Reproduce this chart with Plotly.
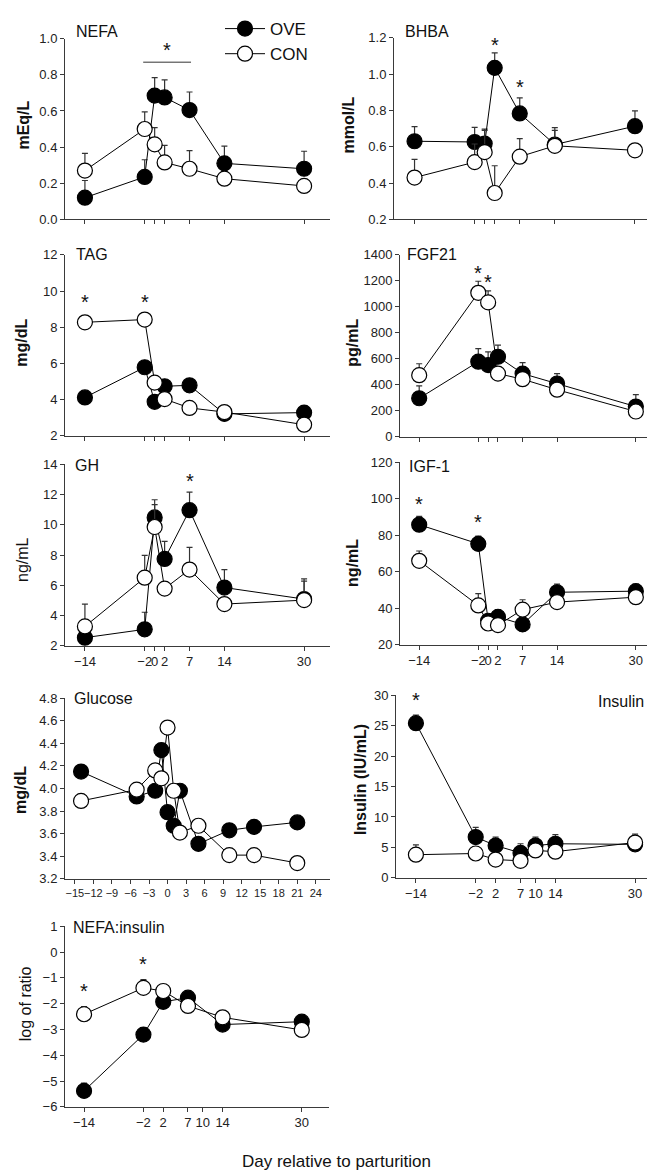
import plotly.graph_objects as go

W, H = 655, 1175
FONT = "Liberation Sans, Arial, sans-serif"

# ---------------- data ----------------
days = [-14, -2, 0, 2, 7, 14, 30]
tick_days = [-14, -2, 0, 2, 7, 14, 30]
tick_days_txt = ["\u221214", "\u22122", "0", "2", "7", "14", "30"]

nefa_ove = [0.12, 0.235, 0.685, 0.675, 0.605, 0.31, 0.28]
nefa_ove_se = [0.095, 0.095, 0.10, 0.097, 0.10, 0.095, 0.097]
nefa_con = [0.27, 0.50, 0.415, 0.315, 0.28, 0.225, 0.185]
nefa_con_se = [0.095, 0.095, 0.093, 0.095, 0.10, 0.03, 0.03]

bhba_ove = [0.63, 0.626, 0.617, 1.034, 0.783, 0.612, 0.713]
bhba_ove_se = [0.08, 0.08, 0.08, 0.083, 0.086, 0.093, 0.084]
bhba_con = [0.43, 0.515, 0.57, 0.345, 0.545, 0.605, 0.58]
bhba_con_se = [0.10, 0.10, 0.12, 0.15, 0.10, 0.085, 0.03]

tag_ove = [4.11, 5.78, 3.87, 4.73, 4.78, 3.2, 3.27]
tag_con = [8.27, 8.42, 4.93, 4.02, 3.53, 3.3, 2.6]

fgf_ove = [295, 577, 551, 615, 485, 409, 231]
fgf_ove_se = [96, 101, 102, 89, 84, 76, 92]
fgf_con = [473, 1108, 1034, 485, 442, 361, 193]
fgf_con_se = [88, 89, 89, 20, 20, 20, 20]

gh_ove = [2.54, 3.09, 10.48, 7.74, 10.96, 5.85, 5.09]
gh_ove_se = [0.3, 1.13, 1.17, 1.16, 1.19, 1.19, 1.34]
gh_con = [3.28, 6.5, 9.85, 5.78, 7.04, 4.76, 5.02]
gh_con_se = [1.48, 1.48, 1.48, 0.3, 1.46, 0.3, 1.26]

igf_ove = [85.8, 75.3, 33.2, 35.3, 31.2, 48.8, 49.4]
igf_ove_se = [4.5, 4.2, 2, 4, 2, 4.5, 3.9]
igf_con = [66, 41.6, 31.7, 30.8, 39.3, 43.4, 46.1]
igf_con_se = [5.4, 6.4, 2, 2, 5.4, 2, 2]

glu_days = [-14, -5, -2, -1, 0, 1, 2, 5, 10, 14, 21]
glu_ove = [4.15, 3.93, 3.98, 4.34, 3.79, 3.67, 3.98, 3.51, 3.63, 3.66, 3.70]
glu_con = [3.89, 3.99, 4.16, 4.09, 4.54, 3.98, 3.61, 3.67, 3.41, 3.41, 3.34]
glu_ticks = [-15, -12, -9, -6, -3, 0, 3, 6, 9, 12, 15, 18, 21, 24]

ins_days = [-14, -2, 2, 7, 10, 14, 30]
ins_ticks_txt = ["\u221214", "\u22122", "2", "7", "10", "14", "30"]
ins_ove = [25.4, 6.7, 5.3, 4.1, 5.3, 5.6, 5.5]
ins_ove_se = [1.35, 1.6, 1.4, 1.5, 1.4, 1.5, 1.7]
ins_con = [3.8, 4.0, 3.0, 2.8, 4.5, 4.3, 5.8]
ins_con_se = [1.6, 0.3, 0.3, 0.3, 0.3, 0.3, 1.2]

rat_days = [-14, -2, 2, 7, 14, 30]
rat_ove = [-5.38, -3.2, -1.93, -1.77, -2.81, -2.7]
rat_ove_se = [0.3, 0.25, 0.2, 0.2, 0.2, 0.2]
rat_con = [-2.41, -1.39, -1.51, -2.09, -2.53, -3.02]
rat_con_se = [0.3, 0.32, 0.2, 0.2, 0.2, 0.2]

# ---------------- panels ----------------
panels = [
    dict(name="NEFA", ylab="mEq/L", bold=True, px=(57, 322), py=(24, 207), xr=(-18.0, 35.2),
         yr=(0, 1.0), dy=0.2, fmt=".1f", x=days, ove=nefa_ove, ose=nefa_ove_se, con=nefa_con, cse=nefa_con_se,
         xt=tick_days, xtt=None, stars=[], title_xy=(66, 17), ylab_xy=(16, 112)),
    dict(name="BHBA", ylab="mmol/L", bold=True, px=(386, 650), py=(23, 207), xr=(-18.1, 34.6),
         yr=(0.2, 1.2), dy=0.2, fmt=".1f", x=days, ove=bhba_ove, ose=bhba_ove_se, con=bhba_con, cse=bhba_con_se,
         xt=tick_days, xtt=None, stars=[(2, 1.16), (7, 0.93)], title_xy=(395, 17), ylab_xy=(341, 112)),
    dict(name="TAG", ylab="mg/dL", bold=True, px=(57, 322), py=(243, 426), xr=(-18.0, 35.2),
         yr=(2, 12), dy=2, fmt="d", x=days, ove=tag_ove, ose=None, con=tag_con, cse=None,
         xt=tick_days, xtt=None, stars=[(-14, 9.4), (-2, 9.4)], title_xy=(66, 243), ylab_xy=(14, 332)),
    dict(name="FGF21", ylab="pg/mL", bold=True, px=(392, 650), py=(243, 427), xr=(-17.9, 34.5),
         yr=(0, 1400), dy=200, fmt="d", x=days, ove=fgf_ove, ose=fgf_ove_se, con=fgf_con, cse=fgf_con_se,
         xt=tick_days, xtt=None, stars=[(-2, 1260), (0, 1190)], title_xy=(397, 243), ylab_xy=(345, 332)),
    dict(name="GH", ylab="ng/mL", bold=False, px=(57, 322), py=(455, 639), xr=(-18.0, 35.2),
         yr=(2, 14), dy=2, fmt="d", x=days, ove=gh_ove, ose=gh_ove_se, con=gh_con, cse=gh_con_se,
         xt=tick_days, xtt=tick_days_txt, stars=[(7, 12.9)], title_xy=(65, 456), ylab_xy=(15, 552)),
    dict(name="IGF-1", ylab="ng/mL", bold=True, px=(392, 650), py=(453, 638), xr=(-17.9, 34.5),
         yr=(20, 120), dy=20, fmt="d", x=days, ove=igf_ove, ose=igf_ove_se, con=igf_con, cse=igf_con_se,
         xt=tick_days, xtt=tick_days_txt, stars=[(-14, 97), (-2, 87)], title_xy=(399, 457), ylab_xy=(345, 555)),
    dict(name="Glucose", ylab="mg/dL", bold=True, px=(57, 322), py=(692, 875), xr=(-16.6, 26.3),
         yr=(3.2, 4.8), dy=0.2, fmt=".1f", x=glu_days, ove=glu_ove, ose=None, con=glu_con, cse=None,
         xt=glu_ticks, xtt=None, stars=[], title_xy=(64, 692), ylab_xy=(13, 785)),
    dict(name="Insulin", ylab="Insulin (IU/mL)", bold=True, px=(388, 650), py=(689, 874), xr=(-18.0, 34.6),
         yr=(0, 30), dy=5, fmt="d", x=ins_days, ove=ins_ove, ose=ins_ove_se, con=ins_con, cse=ins_con_se,
         xt=ins_days, xtt=ins_ticks_txt, stars=[(-14, 29.2)], title_xy=(638, 695), ylab_xy=(352, 775)),
    dict(name="NEFA:insulin", ylab="log of ratio", bold=False, px=(57, 321), py=(923, 1106), xr=(-17.85, 35.5),
         yr=(-6, 1), dy=1, fmt="d", x=rat_days, ove=rat_ove, ose=rat_ove_se, con=rat_con, cse=rat_con_se,
         xt=ins_days, xtt=ins_ticks_txt, stars=[(-14, -1.5), (-2, -0.45)], title_xy=(63, 924), ylab_xy=(17, 1002)),
]

fig = go.Figure()
annotations = []
shapes = []
AX = "#3a3a3a"
TICKF = dict(family=FONT, size=13, color="#222")


def fmt_tick(v, fmt):
    s = f"{v:.1f}" if fmt == ".1f" else f"{int(round(v))}"
    return s.replace("-", "\u2212")


for i, p in enumerate(panels):
    k = "" if i == 0 else str(i + 1)
    xa, ya = "x" + k, "y" + k
    for series, se, fill, nm in [(p["ove"], p["ose"], "black", "OVE"), (p["con"], p["cse"], "white", "CON")]:
        err = None
        if se is not None:
            err = dict(type="data", symmetric=False, array=se, arrayminus=[0] * len(se),
                       color="#333", thickness=1.2, width=3)
        fig.add_trace(go.Scatter(
            x=p["x"], y=series, mode="lines+markers", name=nm, xaxis=xa, yaxis=ya,
            line=dict(color="black", width=1),
            marker=dict(size=15, color=fill, line=dict(color="black", width=1.2)),
            error_y=err, showlegend=(i == 0), cliponaxis=False))
    y0, y1 = p["yr"]
    n = int(round((y1 - y0) / p["dy"]))
    yt = [y0 + j * p["dy"] for j in range(n + 1)]
    ytt = [fmt_tick(v, p["fmt"]) for v in yt]
    xd = [p["px"][0] / W, p["px"][1] / W]
    yd = [1 - p["py"][1] / H, 1 - p["py"][0] / H]
    showx = p["xtt"] is not None or p["name"] == "Glucose"
    xtt = p["xtt"] if p["xtt"] is not None else [fmt_tick(v, "d") for v in p["xt"]]
    xtf = dict(TICKF, size=11) if p["name"] == "Glucose" else TICKF
    fig.update_layout(**{
        ("xaxis" + k): dict(domain=xd, range=list(p["xr"]), anchor=ya, showline=True, linecolor=AX,
                            linewidth=1, showgrid=False, zeroline=False, ticks="outside", ticklen=4,
                            tickcolor=AX, tickvals=p["xt"], ticktext=xtt, showticklabels=showx,
                            tickfont=xtf, tickangle=0),
        ("yaxis" + k): dict(domain=yd, range=[y0, y1], anchor=xa, showline=True, linecolor=AX,
                            linewidth=1, showgrid=False, zeroline=False, ticks="outside", ticklen=4,
                            tickcolor=AX, tickvals=yt, ticktext=ytt, tickfont=TICKF),
    })
    tx, ty = p["title_xy"]
    annotations.append(dict(xref="paper", yref="paper", x=tx / W, y=1 - ty / H, text=p["name"],
                            showarrow=False, xanchor="right" if p["name"] == "Insulin" else "left",
                            yanchor="middle", font=dict(family=FONT, size=16, color="#111")))
    lx, ly = p["ylab_xy"]
    lab = f"<b>{p['ylab']}</b>" if p["bold"] else p["ylab"]
    annotations.append(dict(xref="paper", yref="paper", x=lx / W, y=1 - ly / H, text=lab,
                            showarrow=False, textangle=-90, xanchor="center", yanchor="middle",
                            font=dict(family=FONT, size=16, color="#111")))
    for sx, sy in p["stars"]:
        annotations.append(dict(xref=xa, yref=ya, x=sx, y=sy, text="*", showarrow=False,
                                font=dict(family=FONT, size=20, color="#111")))

# NEFA significance bar and star
shapes.append(dict(type="line", xref="x", yref="y", x0=-2.3, x1=7.3, y0=0.87, y1=0.87,
                   line=dict(color="#333", width=1)))
annotations.append(dict(xref="x", yref="y", x=2.5, y=0.94, text="*", showarrow=False,
                        font=dict(family=FONT, size=20, color="#111")))

annotations.append(dict(xref="paper", yref="paper", x=328 / W, y=1 - 1161 / H,
                        text="Day relative to parturition", showarrow=False,
                        xanchor="center", yanchor="middle", font=dict(family=FONT, size=17, color="#111")))

fig.update_layout(
    width=W, height=H, margin=dict(l=0, r=0, t=0, b=0),
    paper_bgcolor="white", plot_bgcolor="white",
    annotations=annotations, shapes=shapes,
    legend=dict(x=212 / W, y=1 + 4 / H, xanchor="left", yanchor="top", bgcolor="rgba(0,0,0,0)",
                font=dict(family=FONT, size=17, color="#111"), tracegroupgap=0, itemwidth=40),
    font=dict(family=FONT),
)

fig.write_html("out.html")
